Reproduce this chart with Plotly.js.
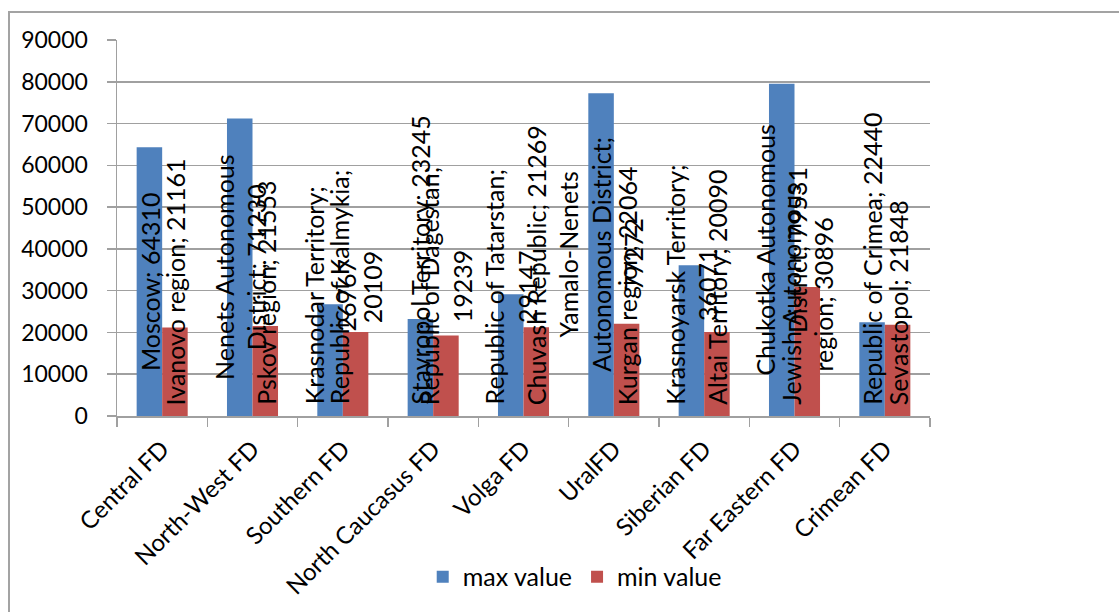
<!DOCTYPE html>
<html><head><meta charset="utf-8">
<script src="https://cdn.plot.ly/plotly-3.0.1.min.js"></script>
<style>
html,body{margin:0;padding:0;background:#fff;}
#chart{position:absolute;left:0;top:0;width:1119px;height:612px;}
#frame{position:absolute;left:8px;top:11px;width:1111px;height:601px;border-left:2px solid #a3a3a3;border-top:2px solid #a3a3a3;pointer-events:none;box-sizing:border-box;}
</style></head><body>
<div id="chart"></div><div id="frame"></div>
<script>
// ---- data ----
const categories = ["Central FD", "North-West FD", "Southern FD", "North Caucasus FD", "Volga FD", "UralFD", "Siberian FD", "Far Eastern FD", "Crimean FD"];
const maxValues = [64310, 71230, 26767, 23245, 29147, 77272, 36071, 79531, 22440];
const minValues = [21161, 21553, 20109, 19239, 21269, 22064, 20090, 30896, 21848];
const maxRegions = ["Moscow", "Nenets Autonomous\nDistrict", "Krasnodar Territory", "Stavropol Territory", "Republic of Tatarstan", "Yamalo-Nenets\nAutonomous District", "Krasnoyarsk Territory", "Chukotka Autonomous\nDistrict", "Republic of Crimea"];
const minRegions = ["Ivanovo region", "Pskov region", "Republic of Kalmykia", "Republic of Dagestan", "Chuvash Republic", "Kurgan region", "Altai Territory", "Jewish Autonomous\nregion", "Sevastopol"];
const maxValueOnNewLine = [false, false, true, false, true, true, true, false, false];
const minValueOnNewLine = [false, false, true, true, false, false, false, false, false];
const seriesNames = ["max value", "min value"];
const yTickValues = [0, 10000, 20000, 30000, 40000, 50000, 60000, 70000, 80000, 90000];

// ---- style ----
const FONT = "Lato, 'Open Sans', sans-serif";
const FS_LABEL = 25, FS_TICK = 23, FS_XTICK = 24, FS_LEG = 25;
const BLUE = "#4f81bd", RED = "#c0504d", GRID = "#a0a0a0";
const W = 1119, H = 612;
const M = {l: 117, r: 189, t: 40, b: 196, pad: 0};
const BARGAP = 0.435;
const yMax = yTickValues[yTickValues.length - 1];
const plotH = H - M.t - M.b, plotW = W - M.l - M.r;
const k = plotH / yMax;
const barPx = plotW / categories.length * (1 - BARGAP) / 2;

const ctx = document.createElement('canvas').getContext('2d');
ctx.font = FS_LABEL + "px Lato";

function labelText(name, val, nl) {
  return name.replace(/\n/g, '<br>') + ';' + (nl ? '<br>' : ' ') + val;
}
function labelLength(txt) {
  return Math.max(...txt.split('<br>').map(s => ctx.measureText(s).width));
}
function labelAnnotations(values, names, nls, side) {
  return values.map((v, i) => {
    const t = labelText(names[i], v, nls[i]);
    const L = labelLength(t);
    let c = v / 2 * k;
    c = Math.max(c, L / 2 + 11);
    c = Math.min(c, plotH + 25 - L / 2);
    return {
      x: categories[i], y: c / k, xref: 'x', yref: 'y',
      text: t, textangle: -90, showarrow: false,
      xanchor: 'center', yanchor: 'middle',
      xshift: side * barPx / 2, borderpad: 0,
      font: {family: FONT, size: FS_LABEL, color: '#000'},
      align: 'center'
    };
  });
}

const traces = [
  {type: 'bar', name: seriesNames[0], x: categories, y: maxValues, marker: {color: BLUE}},
  {type: 'bar', name: seriesNames[1], x: categories, y: minValues, marker: {color: RED}}
];

const layout = {
  width: W, height: H,
  margin: M,
  paper_bgcolor: 'rgba(0,0,0,0)', plot_bgcolor: 'rgba(0,0,0,0)',
  barmode: 'group', bargap: BARGAP, bargroupgap: 0,
  font: {family: FONT, size: FS_TICK, color: '#000'},
  showlegend: true,
  legend: {orientation: 'h', x: 0.563, xanchor: 'center', y: -0.428, yanchor: 'middle',
           font: {family: FONT, size: FS_LEG, color: '#000'}, bgcolor: 'rgba(0,0,0,0)'},
  xaxis: {
    type: 'category', tickangle: -45, showline: true, linecolor: GRID, linewidth: 1.5,
    ticks: 'outside', tickson: 'boundaries', ticklen: 9, tickcolor: GRID, tickwidth: 1.5,
    showgrid: false, zeroline: false, ticklabelstandoff: 8,
    tickfont: {family: FONT, size: FS_XTICK, color: '#000'}
  },
  yaxis: {
    range: [0, yMax], tickvals: yTickValues, ticktext: yTickValues.map(String),
    showline: true, linecolor: GRID, linewidth: 1.5,
    ticks: 'outside', ticklen: 9, tickcolor: GRID, tickwidth: 1.5,
    showgrid: true, gridcolor: GRID, gridwidth: 1.5, zeroline: false,
    ticklabelstandoff: 14,
    tickfont: {family: FONT, size: FS_TICK, color: '#000'}
  },
  annotations: [].concat(
    labelAnnotations(maxValues, maxRegions, maxValueOnNewLine, -1),
    labelAnnotations(minValues, minRegions, minValueOnNewLine, 1)
  )
};

Plotly.newPlot('chart', traces, layout, {staticPlot: true, displayModeBar: false});
</script>
</body></html>
